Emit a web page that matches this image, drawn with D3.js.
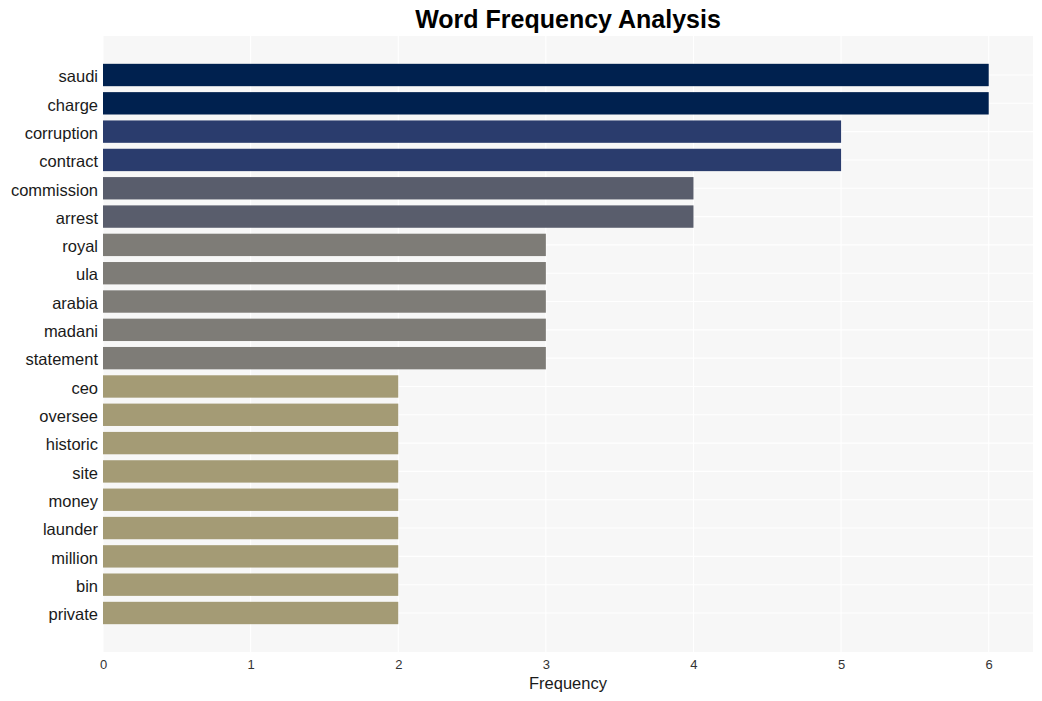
<!DOCTYPE html>
<html><head><meta charset="utf-8">
<script src="https://cdn.jsdelivr.net/npm/d3@7"></script>
<style>body{margin:0;background:#fff}svg{display:block}</style>
</head><body>
<script>
const words = ["saudi","charge","corruption","contract","commission","arrest","royal","ula","arabia","madani","statement","ceo","oversee","historic","site","money","launder","million","bin","private"];
const counts = [6,6,5,5,4,4,3,3,3,3,3,2,2,2,2,2,2,2,2,2];
const xTicks = [0,1,2,3,4,5,6];
const colorByCount = {6:"#00214f",5:"#2a3c6d",4:"#595d6c",3:"#7e7c77",2:"#a49b75"};

const W=1042,H=701;
const panel={l:103,r:1033,t:36,b:652};
const svg=d3.select("body").append("svg").attr("width",W).attr("height",H);
svg.append("rect").attr("x",panel.l).attr("y",panel.t).attr("width",panel.r-panel.l).attr("height",panel.b-panel.t).attr("fill","#f7f7f7");

const x=d3.scaleLinear().domain([0,6.3]).range([panel.l,panel.r]);
const y=d3.scalePoint().domain(words).range([75,613]);
const step=y.step();
const bh=step*0.79;

// gridlines
svg.append("g").selectAll("line").data(xTicks).join("line")
  .attr("x1",d=>x(d)).attr("x2",d=>x(d)).attr("y1",panel.t).attr("y2",panel.b)
  .attr("stroke","#ffffff").attr("stroke-width",1.1);
svg.append("g").selectAll("line").data(words).join("line")
  .attr("x1",panel.l).attr("x2",panel.r).attr("y1",d=>y(d)).attr("y2",d=>y(d))
  .attr("stroke","#ffffff").attr("stroke-width",1.1);

svg.append("g").selectAll("rect").data(words).join("rect")
  .attr("x",x(0)).attr("y",d=>y(d)-bh/2)
  .attr("width",(d,i)=>x(counts[i])-x(0)).attr("height",bh)
  .attr("fill",(d,i)=>colorByCount[counts[i]]);

const FF="Liberation Sans, Arial, sans-serif";
// y axis labels
const ya=svg.append("g").attr("transform",`translate(${panel.l},1.5)`)
  .call(d3.axisLeft(y).tickSize(0).tickPadding(5));
ya.select(".domain").remove();
ya.selectAll("text").attr("font-family",FF).attr("font-size",16.5).attr("fill","#1a1a1a");

// x axis
const xa=svg.append("g").attr("transform",`translate(0,${panel.b})`)
  .call(d3.axisBottom(x).tickValues(xTicks).tickFormat(d3.format("d")).tickSize(0).tickPadding(8));
xa.select(".domain").remove();
xa.selectAll("text").attr("font-family",FF).attr("font-size",13).attr("fill","#333");

svg.append("text").attr("x",(panel.l+panel.r)/2).attr("y",689).attr("text-anchor","middle")
  .attr("font-family",FF).attr("font-size",16.5).attr("fill","#1a1a1a").text("Frequency");
svg.append("text").attr("x",(panel.l+panel.r)/2).attr("y",28).attr("text-anchor","middle")
  .attr("font-family",FF).attr("font-size",25).attr("font-weight","bold").attr("fill","#000").text("Word Frequency Analysis");
</script>
</body></html>
